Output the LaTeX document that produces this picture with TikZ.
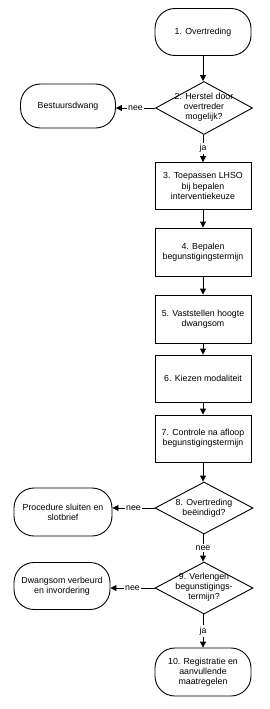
\documentclass[tikz,border=0pt]{standalone}
\usepackage{fontspec}
\setmainfont{Liberation Sans}
\usetikzlibrary{shapes.geometric,arrows.meta}
\begin{document}
\begin{tikzpicture}[x=1pt,y=-1pt,
  every node/.style={font=\fontsize{8.8}{10.2}\selectfont, align=center, inner sep=0pt},
  term/.style={draw, line width=0.9pt, rounded corners=20pt, minimum width=96pt, minimum height=47pt},
  proc/.style={draw, line width=0.9pt, minimum width=96pt, minimum height=47pt},
  dia/.style={draw, line width=0.9pt, diamond, minimum width=97pt, minimum height=53pt},
  arr/.style={draw, line width=0.9pt, -{Triangle[width=6pt,length=6pt]}},
  lab/.style={fill=white, inner sep=1.5pt}
]
\useasboundingbox (0,0) rectangle (270,709);
\node[term] (n1) at (203,32) {1. Overtreding};
\node[dia] (d2) at (204,108) {};
\node (t2) at (204,107) {2. Herstel door\\overtreder\\mogelijk?};
\node[term, minimum width=95pt, minimum height=44pt] (bd) at (68,106) {Bestuursdwang};
\node[proc] (n3) at (203,186) {3. Toepassen LHSO\\bij bepalen\\interventiekeuze};
\node[proc, minimum height=48pt] (n4) at (203,252) {4. Bepalen\\begunstigingstermijn};
\node[proc, minimum height=48pt] (n5) at (203,319) {5. Vaststellen hoogte\\dwangsom};
\node[proc] (n6) at (203,378.5) {6. Kiezen modaliteit};
\node[proc] (n7) at (203,438.5) {7. Controle na afloop\\begunstigingstermijn};
\node[dia, minimum width=98pt, minimum height=52pt] (d8) at (204,508) {};
\node (t8) at (204,508) {8. Overtreding\\beëindigd?};
\node[term, minimum width=98pt, minimum height=48pt] (ps) at (63,512) {Procedure sluiten en\\slotbrief};
\node[dia, minimum width=98pt, minimum height=52pt] (d9) at (204,588) {};
\node (t9) at (204,587) {9. Verlengen\\begunstigings-\\termijn?};
\node[term] (dv) at (62,586) {Dwangsom verbeurd\\en invordering};
\node[term, minimum height=48pt] (n10) at (203,672) {10. Registratie en\\aanvullende\\maatregelen};

\draw[arr] (n1.south) -- (n1.south |- d2.north);
\draw[arr] (d2.west) -- node[lab] (l2n) {nee} (d2.west -| bd.east);
\draw[arr] (d2.south -| n3.north) -- node[lab] (l2j) {ja} (n3.north);
\draw[arr] (n3) -- (n4);
\draw[arr] (n4) -- (n5);
\draw[arr] (n5) -- (n6);
\draw[arr] (n6) -- (n7);
\draw[arr] (n7.south) -- (n7.south |- d8.north);
\draw[arr] (d8.west) -- node[lab] (l8n) {nee} (d8.west -| ps.east);
\draw[arr] (d8.south -| n7.south) -- node[lab] (l8s) {nee} (d9.north -| n7.south);
\draw[arr] (d9.west) -- node[lab] (l9n) {nee} (d9.west -| dv.east);
\draw[arr] (d9.south -| n10.north) -- node[lab] (l9j) {ja} (n10.north);
\end{tikzpicture}
\end{document}
